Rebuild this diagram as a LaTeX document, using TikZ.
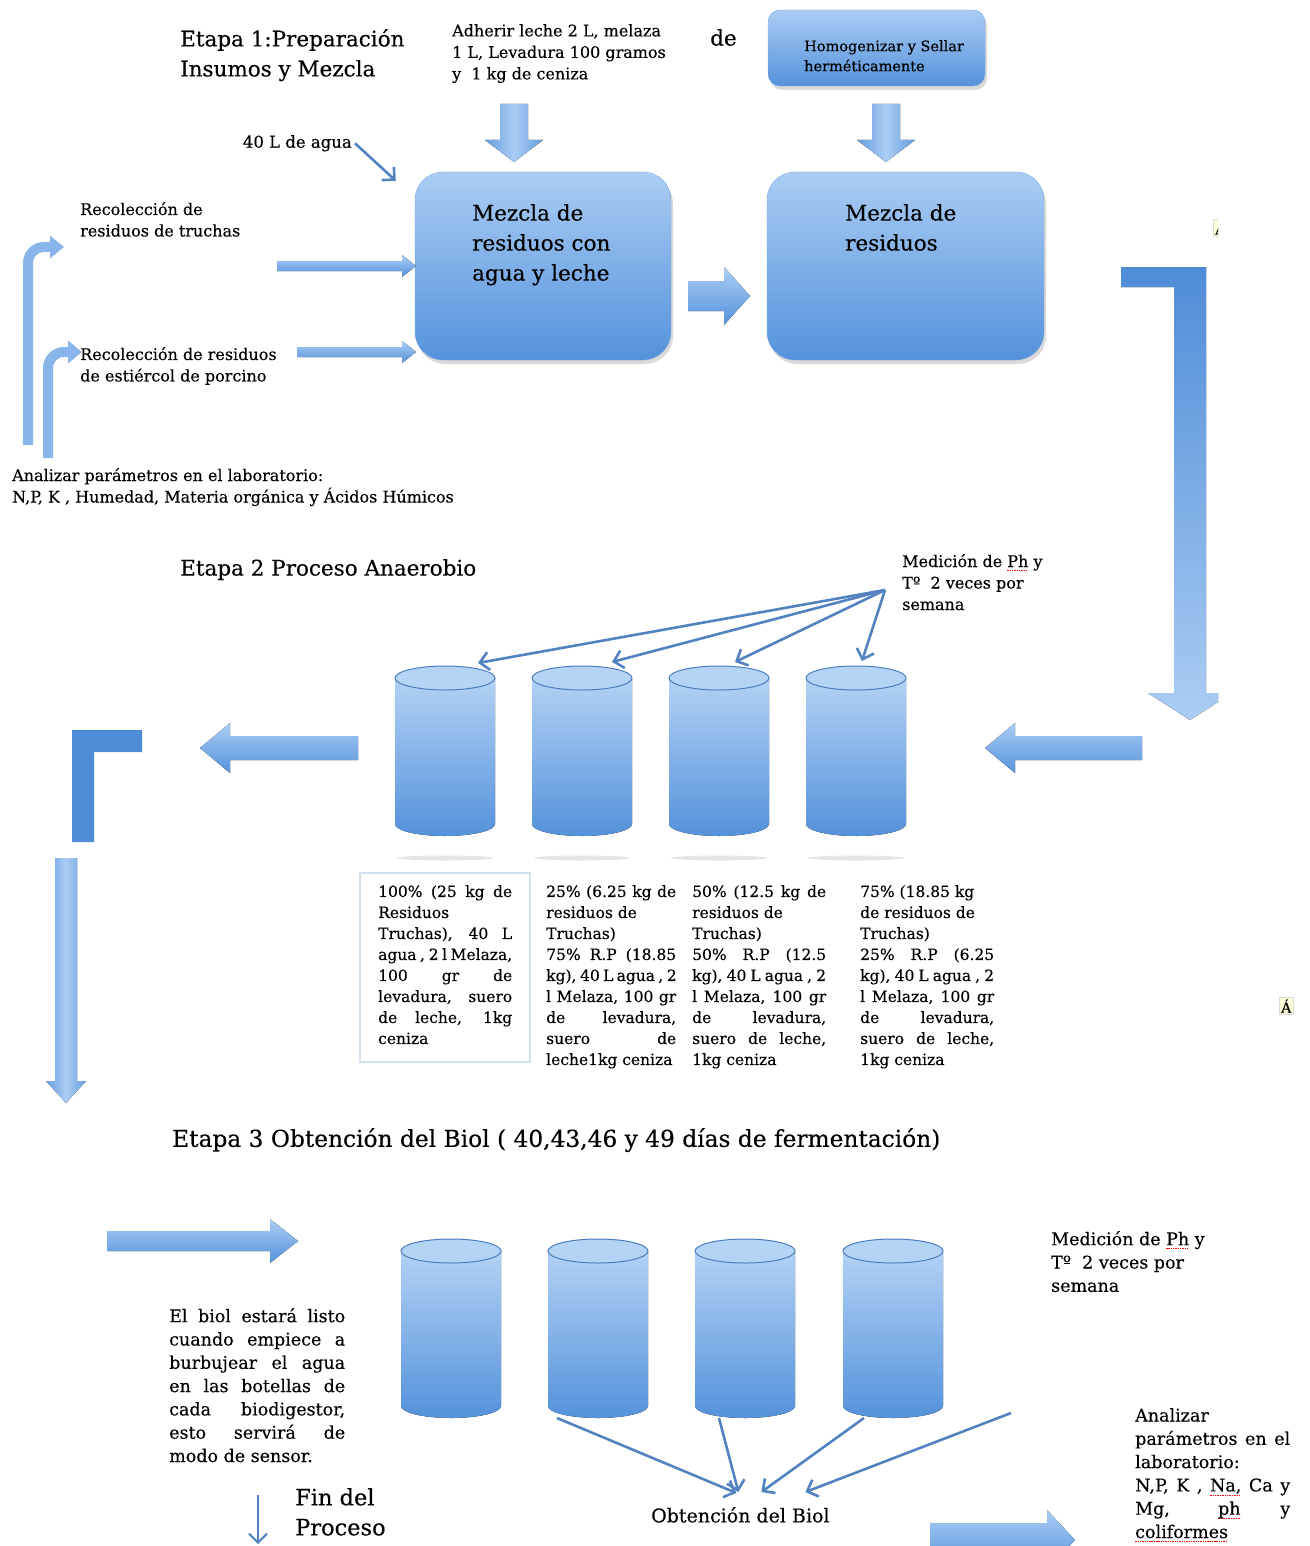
\documentclass[tikz,border=0pt]{standalone}
\usepackage{xcolor}
\usepackage{tikz}
\usepackage{fontspec}
\setmainfont{DejaVu Serif}[FakeBold=0.3]
\usetikzlibrary{arrows.meta,shadows,positioning}
\definecolor{biolight}{HTML}{AACDF4}
\definecolor{biodark}{HTML}{5592DB}
\definecolor{biotop}{HTML}{B4D4F6}
\definecolor{bioedge}{HTML}{4A7EBF}
\definecolor{biothin}{HTML}{5283C0}
\definecolor{biosolid}{HTML}{4F8CD7}

\newsavebox\spbox
\newcommand{\spellerr}[1]{\sbox\spbox{#1}\leavevmode\rlap{\raisebox{-4pt}{\hbox to\wd\spbox{\xleaders\hbox{\textcolor{red}{\rule{1.4pt}{0.9pt}}\hskip0.9pt}\hfill}}}\usebox\spbox}
\newcommand{\jl}[2][134pt]{\makebox[#1][s]{#2}}

% block arrows: from, to, at, half shaft, half head, head length
\newcommand{\harrow}[6]{%
  \fill[blockfill] ({#1},{#3-#4}) -- ({#2-(#6)},{#3-#4}) -- ({#2-(#6)},{#3-#5})
    -- ({#2},{#3}) -- ({#2-(#6)},{#3+#5}) -- ({#2-(#6)},{#3+#4}) -- ({#1},{#3+#4}) -- cycle;}
\newcommand{\varrow}[6]{%
  \fill[vblockfill] ({#1-#4},{#2}) -- ({#1-#4},{#3-(#6)}) -- ({#1-#5},{#3-(#6)})
    -- ({#1},{#3}) -- ({#1+#5},{#3-(#6)}) -- ({#1+#4},{#3-(#6)}) -- ({#1+#4},{#2}) -- cycle;}

\tikzset{
  blockfill/.style={top color=biolight, bottom color=biodark},
  vblockfill/.style={left color=biodark!90, right color=biodark!90, middle color=biolight},
  smalltxt/.style={font=\fontsize{16}{21.5}\selectfont, align=left, inner sep=0pt, anchor=north west},
  smalltxtb/.style={font=\fontsize{17.5}{23.3}\selectfont, align=left, inner sep=0pt, anchor=north west},
  tabtxt/.style={font=\fontsize{15.5}{21}\selectfont, align=left, inner sep=0pt, anchor=north west},
  bigtxt/.style={font=\fontsize{21.5}{30}\selectfont, align=left, inner sep=0pt, anchor=north west},
  mixbox/.style={rounded corners=28pt, draw=biodark!80, top color=biolight, bottom color=biodark,
    drop shadow={opacity=0.3, shadow xshift=2pt, shadow yshift=-4pt}},
  thinarr/.style={biothin, line width=2.6pt, -{Straight Barb[length=9pt, width=18pt]}},
  bentarr/.style={draw=biolight!60!biodark, line width=10pt, rounded corners=16pt,
    -{Triangle[width=22pt, length=14pt]}},
  pics/biodig/.style={code={
    \fill[top color=biolight!90!white, bottom color=biodark] (-50,0) -- (-50,#1)
      arc[start angle=180, end angle=0, x radius=50, y radius=12] -- (50,0) -- cycle;
    \draw[bioedge, line width=1pt, fill=biotop] (0,0) ellipse[x radius=50, y radius=12];
    \coordinate (-top) at (0,-12);
    \coordinate (-bot) at (0,#1+12);
  }}
}

\begin{document}
\begin{tikzpicture}[x=1pt,y=-1pt]
  \useasboundingbox (0,0) rectangle (1309,1546);
  \clip (0,0) rectangle (1309,1546);

  % Etapa 1
  \node[bigtxt] (ttl1) at (180,29) {Etapa 1:Preparación\\Insumos y Mezcla};
  \node[smalltxt] (adher) at (452,24) {Adherir leche 2 L, melaza\\1 L, Levadura 100 gramos\\y\ \ 1 kg de ceniza};
  \node[bigtxt] (dewd) at (710,29) {de};
  \node[mixbox, rounded corners=12pt, minimum width=217pt, minimum height=76pt] (homog) at (876.5,48) {};
  \node[font=\fontsize{14.5}{20}\selectfont, align=left, inner sep=0pt, anchor=north west] (homogt) at (804,40) {Homogenizar y Sellar\\herméticamente};

  \node[mixbox, minimum width=256pt, minimum height=188pt] (mix1) at (543,266) {};
  \node[bigtxt] (mix1t) at (472,204) {Mezcla de\\residuos con\\agua y leche};
  \node[mixbox, minimum width=277pt, minimum height=188pt] (mix2) at (905.5,266) {};
  \node[bigtxt] (mix2t) at (845,204) {Mezcla de\\residuos};

  \varrow{514}{104}{162}{14}{29}{22}
  \varrow{886}{104}{162}{14}{29}{22}
  \harrow{688}{750}{296}{15}{29}{26}

  \node[smalltxt, font=\fontsize{16.5}{21.5}\selectfont, anchor=north east] (agua) at (352,135) {40 L de agua};
  \draw[thinarr] ([xshift=3pt]agua.east) -- ([xshift=-19pt,yshift=-9pt]mix1.north west);

  \node[smalltxt] (trucha) at (80,202) {Recolección de\\residuos de truchas};
  \node[smalltxt] (porc) at (80,347) {Recolección de residuos\\de estiércol de porcino};
  \harrow{277}{416}{266}{5}{11}{14}
  \harrow{297}{416}{352}{5}{11}{14}
  \draw[bentarr] (28,445) |- (64,247);
  \draw[bentarr] (48,458) |- (82,352);
  \node[smalltxt] (lab1) at (12,468) {Analizar parámetros en el laboratorio:\\N,P, K , Humedad, Materia orgánica y Ácidos Húmicos};

  \begin{scope}
    \clip (0,0) rectangle (1218,1000);
    \fill[top color=biosolid, bottom color=biolight] (1121,267) -- (1206,267) -- (1206,693) -- (1232,693)
      -- (1190,720) -- (1148,693) -- (1174,693) -- (1174,287) -- (1121,287) -- cycle;
    \node[draw=black!15, fill=yellow!15, inner sep=2pt, font=\fontsize{14}{16}\selectfont, anchor=west] (notea) at (1213,228) {Á};
  \end{scope}

  % Etapa 2
  \node[bigtxt] (ttl2) at (180,559) {Etapa 2 Proceso Anaerobio};
  \node[smalltxt] (med1) at (902,554) {Medición de \spellerr{Ph} y\\Tº\ \ 2 veces por\\semana};
  \foreach \i/\cx in {1/445,2/582,3/719,4/856} {
    \fill[black!10] (\cx,858) ellipse[x radius=48, y radius=2.5];
    \pic (d\i) at (\cx,678) {biodig=146};
  }
  \coordinate (medsrc) at (885,590);
  \draw[thinarr] (medsrc) -- ([xshift=33pt,yshift=3pt]d1-top);
  \draw[thinarr] (medsrc) -- ([xshift=30pt,yshift=4pt]d2-top);
  \draw[thinarr] (medsrc) -- ([xshift=16pt,yshift=4pt]d3-top);
  \draw[thinarr] (medsrc) -- ([xshift=6pt,yshift=5pt]d4-top);

  \harrow{358}{200}{748}{12}{25}{-30}
  \harrow{1142}{985}{748}{12}{25}{-30}
  \fill[biosolid] (72,730) -- (142,730) -- (142,752) -- (94,752) -- (94,842) -- (72,842) -- cycle;
  \varrow{66}{858}{1103}{11}{20}{22}

  \draw[bioedge!25, line width=1.6pt] (360,873) rectangle (530,1062);
  \node[tabtxt] (tab1) at (378,885) {\jl{100\% (25 kg de}\\Residuos\\\jl{Truchas), 40 L}\\\jl{agua , 2 l Melaza,}\\\jl{100 gr de}\\\jl{levadura, suero}\\\jl{de leche, 1kg}\\ceniza};
  \node[tabtxt] (tab2) at (546,885) {\jl[130pt]{25\% (6.25 kg de}\\residuos de\\Truchas)\\\jl[130pt]{75\% R.P (18.85}\\\jl[130pt]{kg), 40 L agua , 2}\\\jl[130pt]{l Melaza, 100 gr}\\\jl[130pt]{de levadura,}\\\jl[130pt]{suero de}\\leche1kg ceniza};
  \node[tabtxt] (tab3) at (692,885) {\jl{50\% (12.5 kg de}\\residuos de\\Truchas)\\\jl{50\% R.P (12.5}\\\jl{kg), 40 L agua , 2}\\\jl{l Melaza, 100 gr}\\\jl{de levadura,}\\\jl{suero de leche,}\\1kg ceniza};
  \node[tabtxt] (tab4) at (860,885) {75\% (18.85 kg\\de residuos de\\Truchas)\\\jl{25\% R.P (6.25}\\\jl{kg), 40 L agua , 2}\\\jl{l Melaza, 100 gr}\\\jl{de levadura,}\\\jl{suero de leche,}\\1kg ceniza};
  \node[draw=black!15, fill=yellow!15, inner sep=2pt, font=\fontsize{14}{16}\selectfont, anchor=west] (noteb) at (1279,1006) {Á};

  % Etapa 3
  \node[font=\fontsize{23.3}{30}\selectfont, inner sep=0pt, anchor=north west] (ttl3) at (172,1128) {Etapa 3 Obtención del Biol ( 40,43,46 y 49 días de fermentación)};
  \harrow{107}{298}{1241}{10}{22}{28}
  \foreach \i/\cx in {1/451,2/598,3/745,4/893}
    \pic (e\i) at (\cx,1251) {biodig=155};
  \node[smalltxtb] (biol) at (169,1308) {\jl[176pt]{El biol estará listo}\\\jl[176pt]{cuando empiece a}\\\jl[176pt]{burbujear el agua}\\\jl[176pt]{en las botellas de}\\\jl[176pt]{cada biodigestor,}\\\jl[176pt]{esto servirá de}\\modo de sensor.};
  \node[smalltxtb] (med2) at (1051,1231) {Medición de \spellerr{Ph} y\\Tº\ \ 2 veces por\\semana};

  \node[font=\fontsize{19}{24}\selectfont, inner sep=0pt, anchor=north west] (obt) at (651,1507) {Obtención del Biol};
  \coordinate (freeend) at (1011,1413);
  \draw[thinarr] ([xshift=-41pt]e2-bot) -- ([xshift=-4pt,yshift=14pt]obt.north);
  \draw[thinarr] ([xshift=-26pt]e3-bot) -- ([xshift=-2pt,yshift=15pt]obt.north);
  \draw[thinarr] ([xshift=-29pt]e4-bot) -- ([xshift=21pt,yshift=15pt]obt.north);
  \draw[thinarr] (freeend) -- ([xshift=65pt,yshift=15pt]obt.north);

  \node[font=\fontsize{22.5}{30}\selectfont, align=left, inner sep=0pt, anchor=north west] (fin) at (295,1488) {Fin del\\Proceso};
  \coordinate (finend) at (258,1544);
  \draw[thinarr, line width=2pt] ([xshift=-37pt]fin.north west) ++(0,7) -- (finend);

  \harrow{930}{1075}{1540}{17}{30}{28}
  \node[smalltxtb] (lab2) at (1135,1408) {Analizar\\\jl[155pt]{parámetros en el}\\laboratorio:\\\jl[155pt]{N,P, K , \spellerr{Na,} Ca y}\\\jl[155pt]{Mg, \spellerr{ph} y}\\\spellerr{coliformes}};
\end{tikzpicture}
\end{document}
